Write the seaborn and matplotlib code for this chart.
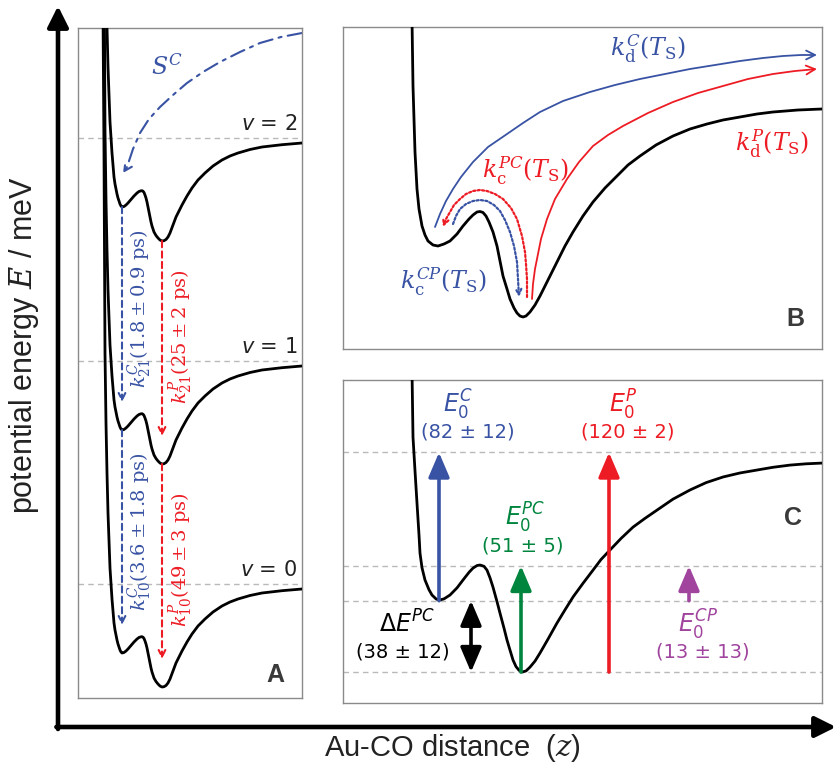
import matplotlib
matplotlib.use("Agg")
import matplotlib.pyplot as plt
from matplotlib.patches import FancyArrowPatch
from matplotlib.path import Path
import seaborn as sns

sns.set_theme(style="white")
plt.rcParams["font.family"] = ["Liberation Sans Narrow", "Liberation Sans", "DejaVu Sans"]

BLUE = "#3953a4"
RED = "#ed1c24"
GREEN = "#00853e"
PURPLE = "#a0449e"
GRID = "#b9b9b9"
LETTER = "#3a3a3a"

# ---- panel A: one adsorption well, repeated for v = 2, 1, 0 ----
# z along the panel, dE relative to the minimum of the C well
shapeA_z = [25, 26, 27, 28, 29, 30, 32, 34, 36, 37, 38, 39, 40, 41, 42, 43, 44, 46, 48, 50,
            53, 56, 59, 61, 63, 64, 65, 66, 67, 68, 69, 70, 71, 72, 73, 74, 75, 76, 78, 80,
            82, 84, 86, 88, 90, 92, 95, 98, 101, 104, 109, 114, 120, 127, 135, 144, 152,
            160, 172, 184, 204, 224]
shapeA_dE = [640, 500, 300, 230, 180, 140, 85, 54, 30, 23, 18, 13, 9, 6, 3, 1, 0, 0.5, 2, 4,
             7.5, 11, 14, 15.5, 16.2, 16.3, 15.8, 14.5, 12, 9, 5, 0, -5, -10, -15, -19, -22,
             -25, -28.5, -31, -33, -34, -33.7, -32.5, -30, -26, -18, -10, -4, 2, 11, 19, 27,
             34, 41, 47, 51, 54, 57.5, 60, 62.3, 64]
v_names = ["2", "1", "0"]
v_base = [491, 268, 45]        # C-well minimum of each level
v_line = [560, 337, 114]       # dashed level lines
zC_A, zP_A, dP_A = 44, 84, -34
rates_C = ["1.8\\pm0.9", "3.6\\pm1.8"]
rates_P = ["25\\pm2", "49\\pm3"]
sC_z = [224, 203, 182, 162, 142, 125, 109, 95, 82, 71, 62, 55, 49, 45]
sC_E = [665, 661, 655, 646, 636, 626, 615, 603, 591, 579, 565, 549, 531, 525]

# ---- panel B ----
shapeB_z = [69, 70, 72, 74, 76, 79, 82, 85, 90, 95, 101, 107, 114, 120, 126, 130, 134, 137,
            140, 143, 146, 150, 154, 157, 160, 164, 167, 171, 174, 177, 180, 183, 187, 192,
            197, 205, 214, 222, 230, 240, 250, 262, 274, 285, 297, 313, 330, 347, 364, 380,
            397, 414, 430, 455, 479]
shapeB_E = [330, 263, 197, 160, 140, 123, 114, 108, 104, 103, 105, 108, 115, 123, 130, 134,
            137, 137.5, 136.5, 133, 127, 117, 103, 88, 73, 60, 50, 41, 36, 33, 32, 33, 37,
            44, 53, 69, 87, 103, 117, 133, 147, 161, 173, 184, 193, 204, 213, 220, 225, 229,
            232, 235, 237, 239, 240]
kdC_z = [92, 97, 103, 110, 118, 130, 145, 164, 180, 197, 220, 247, 272, 297, 322, 347, 372,
         397, 420, 440, 458, 474]
kdC_E = [122, 135, 148, 160, 172, 187, 202, 215, 226, 237, 248, 257, 264, 270, 275, 280, 284,
         288, 291, 293, 294, 294]
kdP_z = [189, 190, 192, 194, 198, 204, 212, 224, 236, 250, 265, 280, 305, 330, 355, 380, 405,
         430, 452, 474]
kdP_E = [50, 65, 80, 90, 110, 130, 150, 170, 187, 203, 214, 223, 236, 247, 256, 263, 270, 275,
         278, 280]
kcPC_z = [184, 184, 183, 182, 179, 174, 168, 160, 152, 144, 137, 130, 123, 117, 111, 107, 103,
          100]
kcPC_E = [52, 70, 85, 97, 113, 130, 141, 150, 155, 158, 159, 158, 155, 150, 144, 137, 130, 122]
kcCP_z = [110, 113, 117, 123, 130, 137, 144, 151, 157, 162, 167, 171, 174, 175, 176]
kcCP_E = [125, 133, 140, 145, 148, 149, 148, 144, 138, 129, 117, 103, 87, 70, 52]

# ---- panel C (meV) ----
shapeC_z = [69, 70, 72, 74, 76, 77, 79, 82, 86, 89, 93, 96, 101, 107, 114, 120, 126, 130, 134,
            137, 141, 144, 147, 150, 154, 157, 161, 164, 167, 170, 173, 176, 179, 183, 187,
            192, 197, 205, 214, 222, 230, 240, 250, 258, 267, 278, 290, 302, 314, 330, 347,
            363, 380, 397, 414, 430, 447, 463, 479]
shapeC_E = [165, 128.4, 110, 92.3, 75, 65, 57, 50.3, 45, 42.1, 40, 39.3, 40, 42.1, 46, 50.3,
            54.5, 56.8, 58.2, 58.5, 57.8, 55.7, 51.5, 46.4, 38.5, 32.2, 24, 17.5, 12, 6.6, 3,
            1, 0, 0.6, 2.7, 6, 10.4, 18, 26.8, 34, 41, 48.5, 55.7, 61.5, 66.7, 73, 79.2, 84,
            88.5, 94.5, 99.5, 103.5, 106.6, 108.8, 110.4, 111.9, 113.1, 113.8, 114.2]
E_levels = [0, 39, 58, 120]
zC, zDelta, zPC, zCP, zE0P = 96, 128, 178, 346, 266
E0_C, E0_P, E0_PC, E0_CP, dE_PC = "82 ± 12", "120 ± 2", "51 ± 5", "13 ± 13", "38 ± 12"

fig = plt.figure(figsize=(8.36, 7.67), dpi=100)
W, H = 836, 767


def add_panel(x0, y0, x1, y1):
    ax = fig.add_axes([x0 / W, 1 - y1 / H, (x1 - x0) / W, (y1 - y0) / H])
    ax.set_xticks([])
    ax.set_yticks([])
    for s in ax.spines.values():
        s.set_color("#8a8a8a")
        s.set_linewidth(1.0)
    return ax


def path_arrow(ax, zs, Es, color, ls="-", lw=1.3, ms=14, style="->"):
    p = Path(list(zip(zs, Es)))
    arr = FancyArrowPatch(path=p, arrowstyle=style, color=color, lw=lw, linestyle=ls,
                          mutation_scale=ms, transform=ax.transData, joinstyle="round",
                          capstyle="round")
    ax.add_patch(arr)


def level_line(ax, y):
    ax.axhline(y, color=GRID, lw=1.0, ls=(0, (4, 3)), zorder=1)


# background: the big axis arrows
bg = fig.add_axes([0, 0, 1, 1], zorder=-1)
bg.set_xlim(0, W)
bg.set_ylim(H, 0)
bg.axis("off")
big = dict(arrowstyle="-|>,head_length=0.7,head_width=0.35", color="black",
           lw=3.3, mutation_scale=18, shrinkA=0, shrinkB=0)
bg.annotate("", xy=(58, 6), xytext=(58, 729), arrowprops=big)
bg.annotate("", xy=(836, 727), xytext=(56.4, 727), arrowprops=big)
bg.text(24, 345, "potential energy $E$ / meV", rotation=90, ha="center", va="center",
        fontsize=22, color="#222222", math_fontfamily="dejavuserif")
bg.text(452, 748, "Au-CO distance  ($z$)", ha="center", va="center", fontsize=21,
        color="#222222", math_fontfamily="dejavuserif")

# ---- panel A ----
axA = add_panel(78, 28, 302, 698)
axA.set_xlim(0, 224)
axA.set_ylim(0, 670)
for name, line in zip(v_names, v_line):
    level_line(axA, line)
    axA.text(219, line + 4, f"$v$ = {name}", ha="right", va="bottom", fontsize=15,
             color="#222222", family="DejaVu Sans", math_fontfamily="dejavusans")
for base in v_base:
    sns.lineplot(x=shapeA_z, y=[base + d for d in shapeA_dE], ax=axA, color="black",
                 lw=2.0, sort=False, estimator=None, zorder=3)
for i in range(2):
    top, nxt = v_base[i], v_base[i + 1]
    axA.annotate("", xy=(zC_A, nxt + 28), xytext=(zC_A, top),
                 arrowprops=dict(arrowstyle="->", color=BLUE, lw=1.5, ls=(0, (3, 2)),
                                 mutation_scale=12, shrinkA=0, shrinkB=0))
    axA.annotate("", xy=(zP_A, nxt + dP_A + 28), xytext=(zP_A, top + dP_A),
                 arrowprops=dict(arrowstyle="->", color=RED, lw=1.5, ls=(0, (3, 2)),
                                 mutation_scale=12, shrinkA=0, shrinkB=0))
    idx = "21" if i == 0 else "10"
    axA.text(62, (top + nxt) / 2 + 10, f"$k_{{{idx}}}^{{C}}({rates_C[i]}\\ \\mathrm{{ps}})$",
             rotation=90, ha="center", va="center", fontsize=14, color=BLUE,
             math_fontfamily="dejavuserif")
    axA.text(103, (top + nxt) / 2 - 18, f"$k_{{{idx}}}^{{P}}({rates_P[i]}\\ \\mathrm{{ps}})$",
             rotation=90, ha="center", va="center", fontsize=14, color=RED,
             math_fontfamily="dejavuserif")
path_arrow(axA, sC_z, sC_E, BLUE, ls=(0, (7, 3, 1.5, 3)), lw=1.5, ms=14)
axA.text(89, 631, "$S^C$", ha="center", va="center", fontsize=17, color=BLUE,
         math_fontfamily="dejavuserif")
axA.text(0.88, 0.035, "A", transform=axA.transAxes, ha="center", va="center",
         fontsize=18, fontweight="bold", color=LETTER)

# ---- panel B ----
axB = add_panel(343, 27, 822, 349)
axB.set_xlim(0, 479)
axB.set_ylim(0, 322)
sns.lineplot(x=shapeB_z, y=shapeB_E, ax=axB, color="black", lw=2.0, sort=False,
             estimator=None, zorder=3)
path_arrow(axB, kdC_z, kdC_E, BLUE, lw=1.3, ms=16)
path_arrow(axB, kdP_z, kdP_E, RED, lw=1.3, ms=16)
path_arrow(axB, kcPC_z, kcPC_E, RED, ls=(0, (1, 1)), lw=1.6, ms=10)
path_arrow(axB, kcCP_z, kcCP_E, BLUE, ls=(0, (1, 1)), lw=1.6, ms=10)
blab = dict(ha="center", va="center", fontsize=17, math_fontfamily="dejavuserif")
axB.text(305, 300, r"$k_\mathrm{d}^{C}(T_\mathrm{S})$", color=BLUE, **blab)
axB.text(429, 205, r"$k_\mathrm{d}^{P}(T_\mathrm{S})$", color=RED, **blab)
axB.text(182, 178, r"$k_\mathrm{c}^{PC}(T_\mathrm{S})$", color=RED, **blab)
axB.text(100, 67, r"$k_\mathrm{c}^{CP}(T_\mathrm{S})$", color=BLUE, **blab)
axB.text(0.944, 0.093, "B", transform=axB.transAxes, ha="center", va="center",
         fontsize=18, fontweight="bold", color=LETTER)

# ---- panel C ----
axC = add_panel(343, 380, 822, 703)
axC.set_xlim(0, 479)
axC.set_ylim(-16.9, 159.6)
for e in E_levels:
    level_line(axC, e)
sns.lineplot(x=shapeC_z, y=shapeC_E, ax=axC, color="black", lw=2.0, sort=False,
             estimator=None, zorder=3)
head = "-|>,head_length=0.75,head_width=0.32"


def up_arrow(z, e0, e1, color, style=head):
    axC.annotate("", xy=(z, e1), xytext=(z, e0),
                 arrowprops=dict(arrowstyle=style, color=color, lw=2.6, mutation_scale=20,
                                 shrinkA=0, shrinkB=0), zorder=4)


up_arrow(zC, E_levels[1], E_levels[3], BLUE)
up_arrow(zE0P, E_levels[0], E_levels[3], RED)
up_arrow(zPC, E_levels[0], E_levels[2], GREEN)
up_arrow(zCP, E_levels[1], E_levels[2], PURPLE)
up_arrow(zDelta, E_levels[0], E_levels[1], "black",
         style="<|-|>,head_length=0.75,head_width=0.32")

lab = dict(ha="center", va="center", fontsize=14, family="DejaVu Sans",
           math_fontfamily="dejavusans")
sym = dict(lab, fontsize=17)
axC.text(115, 146, "$E_0^C$", color=BLUE, **sym)
axC.text(125, 131, f"({E0_C})", color=BLUE, **lab)
axC.text(280, 146, "$E_0^P$", color=RED, **sym)
axC.text(285, 131, f"({E0_P})", color=RED, **lab)
axC.text(182, 84, "$E_0^{PC}$", color=GREEN, **sym)
axC.text(180, 69, f"({E0_PC})", color=GREEN, **lab)
axC.text(64, 26, r"$\Delta E^{PC}$", color="black", **sym)
axC.text(60, 11, f"({dE_PC})", color="black", **lab)
axC.text(355, 26, "$E_0^{CP}$", color=PURPLE, **sym)
axC.text(360, 11, f"({E0_CP})", color=PURPLE, **lab)
axC.text(0.94, 0.573, "C", transform=axC.transAxes, ha="center", va="center",
         fontsize=18, fontweight="bold", color=LETTER)

fig.savefig("out.png", dpi=100)
